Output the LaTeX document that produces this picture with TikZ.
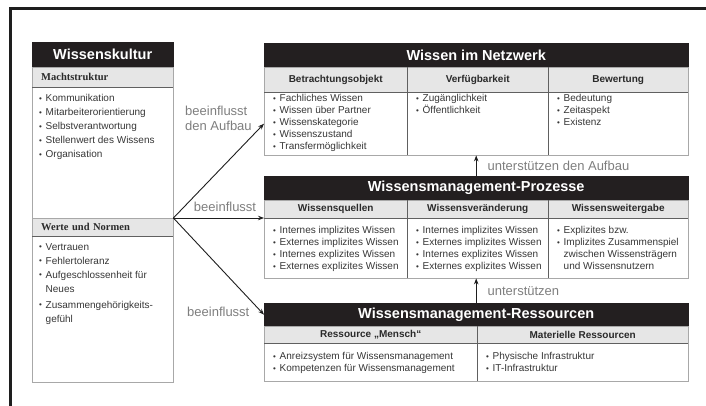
\documentclass[tikz,border=0pt]{standalone}
\usepackage{fontspec}
\setmainfont{Liberation Sans}
\newfontfamily\headserif{Liberation Serif}
\usetikzlibrary{positioning, arrows.meta, calc}

\definecolor{framegray}{HTML}{1E1E1E}
\definecolor{titlebg}{HTML}{231F20}
\definecolor{headbg}{HTML}{E6E6E6}
\definecolor{boxline}{HTML}{A8A8A8}
\definecolor{rulegray}{HTML}{606060}
\definecolor{headtext}{HTML}{2A2A2A}
\definecolor{listtext}{HTML}{363636}
\definecolor{labelgray}{HTML}{7E7E7E}

\newcommand{\bul}{\makebox[6.5pt][l]{\raisebox{0.6pt}{\scalebox{0.8}{\textbullet}}}}
\newcommand{\ind}{\hspace*{6.5pt}}

\begin{document}
\begin{tikzpicture}[
  x=1pt, y=-1pt,
  titlebar/.style={fill=titlebg, draw=titlebg, text=white, anchor=north west, inner sep=0pt,
    minimum height=24, font=\fontsize{14.5}{16}\selectfont\bfseries},
  headcell/.style={fill=headbg, draw=boxline, text=headtext, anchor=north west, inner sep=0pt,
    minimum height=#1, font=\fontsize{10}{12}\selectfont\bfseries},
  lefthead/.style={headcell=#1, inner xsep=9pt, text width=123pt, align=left,
    font=\headserif\fontsize{10.5}{12}\selectfont\bfseries},
  bodycell/.style={draw=boxline, anchor=north west, inner sep=0pt, minimum height=#1},
  itemlist/.style={anchor=north west, align=left, inner sep=0pt, text=listtext,
    font=\fontsize{10}{12}\selectfont},
  infl/.style={text=labelgray, inner sep=0pt, font=\fontsize{13}{15}\selectfont},
  sep/.style={draw=rulegray, line width=0.6pt},
  link/.style={draw=framegray, line width=0.9pt, -{Stealth[length=6pt, width=4.5pt]}}
]
\useasboundingbox (0,0) rectangle (706,406);

% Outer frame (cut off at right and bottom)
\draw[framegray, line width=2.2pt] (10.5,406) -- (10.5,8.5) -- (706,8.5);

% Wissenskultur
\node[titlebar, minimum width=141] (kultur) at (32,42) {Wissenskultur};
\node[lefthead=20] (macht) at (32,67) {Machtstruktur};
\node[bodycell=131, minimum width=141] (machtbody) at (32,87) {};
\node[lefthead=18] (werte) at (32,218) {Werte und Normen};
\node[bodycell=146, minimum width=141] (wertebody) at (32,236) {};
\draw[sep] (macht.south west) -- (macht.south east);
\draw[sep] (werte.south west) -- (werte.south east);
\node[itemlist, font=\fontsize{10}{14}\selectfont, below right=7.5pt and 7pt of machtbody.north west] (machtlist)
  {\bul Kommunikation\\\bul Mitarbeiterorientierung\\\bul Selbstverantwortung\\\bul Stellenwert des Wissens\\\bul Organisation};
\node[itemlist, font=\fontsize{10}{14}\selectfont, below right=7.5pt and 7pt of wertebody.north west] (wertelist)
  {\bul Vertrauen\\\bul Fehlertoleranz\\\bul Aufgeschlossenheit für\\\ind Neues\\[2pt]\bul Zusammengehörigkeits-\\\ind gefühl};

% Wissen im Netzwerk
\node[titlebar, minimum width=424] (netzwerk) at (264,43) {Wissen im Netzwerk};
\node[headcell=25, minimum width=143] (netzh1) at (264,67) {Betrachtungsobjekt};
\node[headcell=25, minimum width=141] (netzh2) at (407,67) {Verfügbarkeit};
\node[headcell=25, minimum width=140] (netzh3) at (548,67) {Bewertung};
\node[bodycell=63, minimum width=143] (netzb1) at (264,92) {};
\node[bodycell=63, minimum width=141] (netzb2) at (407,92) {};
\node[bodycell=63, minimum width=140] (netzb3) at (548,92) {};
\draw[sep] (netzh1.south west) -- (netzh3.south east);
\draw[sep] (netzh1.north east) -- (netzb1.south east);
\draw[sep] (netzh2.north east) -- (netzb2.south east);
\node[itemlist, below right=2.5pt and 9pt of netzb1.north west] (netzl1)
  {\bul Fachliches Wissen\\\bul Wissen über Partner\\\bul Wissenskategorie\\\bul Wissenszustand\\\bul Transfermöglichkeit};
\node[itemlist, below right=2.5pt and 9pt of netzb2.north west] (netzl2)
  {\bul Zugänglichkeit\\\bul Öffentlichkeit};
\node[itemlist, below right=2.5pt and 9pt of netzb3.north west] (netzl3)
  {\bul Bedeutung\\\bul Zeitaspekt\\\bul Existenz};

% Wissensmanagement-Prozesse
\node[titlebar, minimum width=424] (prozesse) at (264,176) {Wissensmanagement-Prozesse};
\node[headcell=18, minimum width=143] (prozh1) at (264,200) {Wissensquellen};
\node[headcell=18, minimum width=141] (prozh2) at (407,200) {Wissensveränderung};
\node[headcell=18, minimum width=140] (prozh3) at (548,200) {Wissensweitergabe};
\node[bodycell=60, minimum width=143] (prozb1) at (264,218) {};
\node[bodycell=60, minimum width=141] (prozb2) at (407,218) {};
\node[bodycell=60, minimum width=140] (prozb3) at (548,218) {};
\draw[sep] (prozh1.south west) -- (prozh3.south east);
\draw[sep] (prozh1.north east) -- (prozb1.south east);
\draw[sep] (prozh2.north east) -- (prozb2.south east);
\node[itemlist, below right=8.5pt and 9pt of prozb1.north west] (prozl1)
  {\bul Internes implizites Wissen\\\bul Externes implizites Wissen\\\bul Internes explizites Wissen\\\bul Externes explizites Wissen};
\node[itemlist, below right=8.5pt and 9pt of prozb2.north west] (prozl2)
  {\bul Internes implizites Wissen\\\bul Externes implizites Wissen\\\bul Internes explizites Wissen\\\bul Externes explizites Wissen};
\node[itemlist, below right=8.5pt and 9pt of prozb3.north west] (prozl3)
  {\bul Explizites bzw.\\\bul Implizites Zusammenspiel\\\ind zwischen Wissensträgern\\\ind und Wissensnutzern};

% Wissensmanagement-Ressourcen
\node[titlebar, minimum width=424, minimum height=23] (ressourcen) at (264,303) {Wissensmanagement-Ressourcen};
\node[headcell=17, minimum width=213] (resh1) at (264,326) {Ressource „Mensch“};
\node[headcell=17, minimum width=211] (resh2) at (477,326) {Materielle Ressourcen};
\node[bodycell=38, minimum width=213] (resb1) at (264,343) {};
\node[bodycell=38, minimum width=211] (resb2) at (477,343) {};
\draw[sep] (resh1.south west) -- (resh2.south east);
\draw[sep] (resh1.north east) -- (resb1.south east);
\node[itemlist, below right=9.5pt and 9pt of resb1.north west] (resl1)
  {\bul Anreizsystem für Wissensmanagement\\\bul Kompetenzen für Wissensmanagement};
\node[itemlist, below right=9.5pt and 9pt of resb2.north west] (resl2)
  {\bul Physische Infrastruktur\\\bul IT-Infrastruktur};

% Einfluss der Wissenskultur
\coordinate (quelle) at (werte.north east);
\draw[link] (quelle) -- (netzb1.west);
\draw[link] (quelle) -- (quelle -| prozb1.west)
  node[infl, pos=0.57, above=6pt] (inflproz) {beeinflusst};
\draw[link] (quelle) -- (ressourcen.west);
\node[infl, align=left, anchor=west] (inflnetz) at (185,118) {beeinflusst\\den Aufbau};
\node[infl, anchor=west] (inflres) at (187,312) {beeinflusst};

% Unterstuetzung
\draw[link] (prozesse.north) -- (prozesse.north |- netzb2.south)
  node[infl, midway, right=11pt] (unterstnetz) {unterstützen den Aufbau};
\draw[link] (ressourcen.north) -- (ressourcen.north |- prozb2.south)
  node[infl, midway, right=11pt] (unterstproz) {unterstützen};

\end{tikzpicture}
\end{document}
